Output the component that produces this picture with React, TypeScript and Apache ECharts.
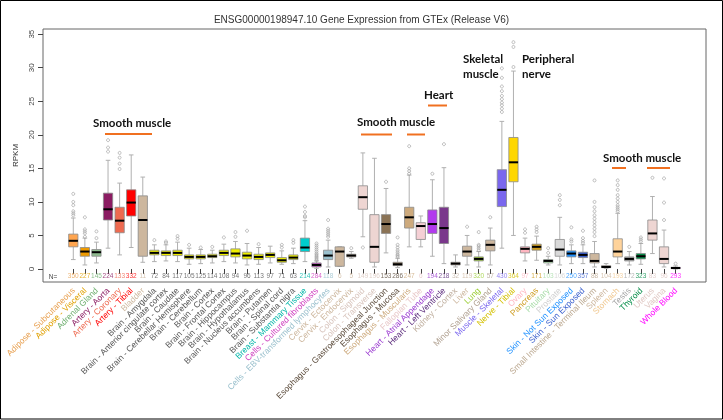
import React, { useEffect, useRef } from "react";
import * as echarts from "echarts";

const titleText = "ENSG00000198947.10 Gene Expression from GTEx (Release V6)";

const tissues = [
  "Adipose - Subcutaneous", "Adipose - Visceral", "Adrenal Gland", "Artery - Aorta", "Artery - Coronary",
  "Artery - Tibial", "Bladder", "Brain - Amygdala", "Brain - Anterior cingulate cortex", "Brain - Caudate",
  "Brain - Cerebellar Hemisphere", "Brain - Cerebellum", "Brain - Cortex", "Brain - Frontal Cortex",
  "Brain - Hippocampus", "Brain - Hypothalamus", "Brain - Nucleus accumbens", "Brain - Putamen",
  "Brain - Spinal cord", "Brain - Substantia nigra", "Breast - Mammary Tissue", "Cells - Cultured fibroblasts",
  "Cells - EBV-transformed lymphocytes", "Cervix - Ectocervix", "Cervix - Endocervix", "Colon - Sigmoid",
  "Colon - Transverse", "Esophagus - Gastroesophageal Junction", "Esophagus - Mucosa", "Esophagus - Muscularis",
  "Fallopian Tube", "Heart - Atrial Appendage", "Heart - Left Ventricle", "Kidney - Cortex", "Liver", "Lung",
  "Minor Salivary Gland", "Muscle - Skeletal", "Nerve - Tibial", "Ovary", "Pancreas", "Pituitary", "Prostate",
  "Skin - Not Sun Exposed", "Skin - Sun Exposed", "Small Intestine - Terminal Ileum", "Spleen", "Stomach",
  "Testis", "Thyroid", "Uterus", "Vagina", "Whole Blood",
];

const nCounts = [
  350, 227, 145, 224, 133, 332, 11, 72, 84, 117, 105, 125, 114, 108, 94, 96, 113, 97, 71, 63, 214, 284, 118, 6, 5,
  149, 196, 153, 286, 247, 6, 194, 218, 32, 119, 320, 57, 430, 364, 97, 171, 103, 106, 250, 357, 88, 104, 193,
  172, 323, 83, 96, 293,
];

const boxColors = [
  "#FFA54F", "#EE9A00", "#8FBC8F", "#8B1C62", "#EE6A50", "#FF0000", "#CDB79E",
  "#EEEE00", "#EEEE00", "#EEEE00", "#EEEE00", "#EEEE00", "#EEEE00", "#EEEE00", "#EEEE00", "#EEEE00", "#EEEE00",
  "#EEEE00", "#EEEE00", "#EEEE00", "#00CDCD", "#C050C0", "#9AC0CD", "#CDB79E", "#CDB79E", "#EED5D2", "#EED5D2",
  "#8B7355", "#8B7355", "#CDAA7D", "#F5D0D5", "#B23AEE", "#7A378B", "#CDB79E", "#CDB79E", "#9ACD32", "#CDB79E",
  "#7A67EE", "#FFD700", "#FFB6C1", "#CD9B1D", "#B4EEB4", "#D9D9D9", "#1E90FF", "#3A5FCD", "#CDB79E", "#CDB79E",
  "#FFD39B", "#A6A6A6", "#008B45", "#EED5D2", "#EED5D2", "#FF00FF",
];

const labelColors = [
  "#E8A050", "#E0A000", "#6FAF6F", "#8B1C62", "#EE6A50", "#FF0000", "#CDB79E",
  "#555555", "#555555", "#555555", "#555555", "#555555", "#555555", "#555555", "#555555", "#555555", "#555555",
  "#555555", "#555555", "#555555", "#00B5A8", "#D040C0", "#9AC0CD", "#CDB79E", "#CDB79E", "#D8C4BC", "#D8C4BC",
  "#5A4A3A", "#5A4A3A", "#CDAA7D", "#E8C8C8", "#9A3AD0", "#5A2A7B", "#C0B0A0", "#CDB79E", "#9ACD32", "#B0A090",
  "#7A67EE", "#D4C000", "#FFB6C1", "#CD9B1D", "#A8DCA8", "#CFCFCF", "#1E90FF", "#3A5FCD", "#BBA890", "#CDB79E",
  "#F0C890", "#A6A6A6", "#008B45", "#E0C8C4", "#E0C8C4", "#FF00FF",
];

const lowWhisker = [
  1.4, 0.6, 0.9, 3.1, 2.1, 3.2, 1.0, 1.1, 1.2, 1.1, 0.7, 0.8, 0.9, 1.1, 0.9, 0.6, 0.7, 0.9, 0.7, 0.8, 1.1, 0.1,
  0.3, 0.4, 1.6, 4.8, 0.3, 2.4, 0.2, 3.3, 3.3, 1.9, 0.8, 0.3, 0.6, 0.3, 0.6, 3.1, 5.0, 1.2, 1.3, 0.6, 0.6, 0.8,
  0.8, 0.3, 0.1, 0.8, 0.6, 0.7, 2.3, 0.3, 0.0,
];
const q1 = [
  3.3, 1.9, 1.9, 7.3, 5.4, 7.9, 1.9, 2.1, 2.0, 2.0, 1.5, 1.5, 1.7, 2.0, 1.8, 1.5, 1.4, 1.7, 1.0, 1.4, 2.6, 0.3,
  1.4, 0.4, 1.8, 8.9, 1.0, 5.3, 0.5, 6.1, 4.4, 5.3, 3.8, 0.6, 1.9, 1.2, 2.7, 9.3, 13.0, 2.4, 2.8, 0.9, 1.9, 1.8,
  1.7, 0.9, 0.2, 1.8, 1.2, 1.5, 4.3, 0.8, 0.05,
];
const medians = [
  4.2, 2.6, 2.5, 8.9, 7.2, 9.9, 7.3, 2.4, 2.4, 2.4, 1.8, 1.8, 1.9, 2.4, 2.3, 2.0, 1.8, 2.1, 1.3, 1.7, 3.2, 0.6,
  2.0, 2.6, 2.0, 10.7, 3.3, 6.7, 0.7, 7.7, 6.4, 6.7, 6.1, 0.8, 2.6, 1.5, 3.6, 11.8, 15.9, 3.0, 3.3, 1.2, 2.9, 2.3,
  2.1, 1.2, 0.3, 2.6, 1.5, 1.9, 5.3, 1.5, 0.15,
];
const q3 = [
  5.2, 3.2, 2.9, 11.3, 9.2, 11.8, 10.9, 2.8, 2.7, 2.8, 2.1, 2.1, 2.2, 2.8, 3.0, 2.5, 2.2, 2.4, 1.7, 2.1, 4.6, 0.9,
  2.8, 3.3, 2.2, 12.4, 8.1, 8.1, 1.0, 9.2, 6.9, 8.8, 9.2, 1.0, 3.4, 1.8, 4.3, 14.8, 19.6, 3.3, 3.7, 1.4, 4.4, 2.7,
  2.5, 2.3, 0.5, 4.5, 1.8, 2.3, 7.3, 3.3, 0.25,
];
const highWhisker = [
  7.6, 4.6, 4.0, 16.2, 12.8, 17.0, 13.7, 3.6, 3.6, 4.0, 3.1, 2.9, 2.8, 3.7, 4.1, 3.8, 3.2, 3.4, 2.7, 3.1, 7.2, 1.2,
  4.3, 3.3, 2.6, 17.3, 16.5, 12.0, 1.6, 14.0, 7.9, 13.3, 15.1, 2.1, 5.0, 2.6, 6.1, 22.0, 29.5, 4.6, 4.9, 1.9, 7.7,
  3.6, 3.6, 4.1, 0.8, 8.3, 2.6, 3.8, 10.8, 5.8, 0.45,
];
const outliers = [
  [8.0, 8.3, 8.6, 9.5, 10.0, 11.2], [4.8, 5.3, 5.6, 5.9, 7.7], [4.6, 5.6], [17.5, 18.1, 19.2],
  [14.9, 15.7, 16.6, 17.3], [], [], [4.3], [3.9, 4.1], [4.5, 4.9], [3.6], [3.2], [3.3], [4.7], [4.8, 5.5], [5.7],
  [3.7], [], [3.2, 3.6], [3.9, 4.3], [7.7, 7.9, 8.5, 9.3],
  [1.3, 1.5, 1.7, 1.9, 2.1, 2.3, 2.6, 2.9, 3.2, 3.5, 3.8], [4.8, 5.1, 5.4, 5.7, 6.0, 7.3], [], [3.1], [3.2], [],
  [13.0], [1.8, 2.0, 2.2, 2.5, 2.8, 3.2, 3.6, 4.7], [14.2, 14.6, 15.0, 18.3], [], [14.2], [18.6], [], [6.3],
  [2.8, 3.1, 3.4, 3.6, 5.5], [7.7], [23.4, 23.9, 24.4, 24.8, 25.3, 25.8, 26.5, 27.2, 28.5, 29.9], [30.1, 33.1, 33.8],
  [5.4, 5.9], [5.5, 5.9, 6.3], [2.4, 3.1], [9.5, 10.3, 11.0], [4.1, 4.4, 6.2], [3.9, 4.2, 4.6, 5.7],
  [4.9, 5.5, 6.0, 6.5, 7.0, 7.5, 8.0, 8.6, 9.2, 10.0, 13.2], [],
  [8.6, 8.9, 9.2, 9.5, 10.0, 10.5, 11.0, 11.8, 12.5, 13.2], [3.3], [4.1, 4.4, 4.7], [13.6], [7.3, 9.9, 13.5], [0.8],
];

const yTicks = [0, 5, 10, 15, 20, 25, 30, 35];

const App: React.FC = () => {
  const ref = useRef<HTMLDivElement>(null);
  useEffect(() => {
    if (!ref.current) return;
    const chart = echarts.init(ref.current, undefined, { renderer: "svg" });
    const boxData = tissues.map((_, i) => [i, lowWhisker[i], q1[i], medians[i], q3[i], highWhisker[i]]);
    const outlierData: number[][] = [];
    outliers.forEach((arr, i) => arr.forEach((v) => outlierData.push([i, v])));
    const nData = nCounts.map((n, i) => ({
      value: [i, -0.98],
      label: { color: labelColors[i] },
    }));
    const annFont = { fontFamily: "Lato", fontWeight: "bold", fontSize: 11.5, fill: "#111" } as any;
    const orange = "#F07020";
    const hline = (x1: number, x2: number, y: number) => ({
      type: "line",
      shape: { x1, y1: y, x2, y2: y },
      style: { stroke: orange, lineWidth: 2 },
    });
    const label = (text: string, x: number, y: number) => ({
      type: "text",
      x,
      y,
      style: { ...annFont, text, textVerticalAlign: "middle" },
    });
    const option: any = {
      animation: false,
      title: {
        text: titleText,
        left: "center",
        top: 9,
        textStyle: { fontSize: 10, fontWeight: "normal", color: "#333", fontFamily: "Liberation Sans" },
      },
      grid: { left: 67.5, top: 29, right: 41.6, bottom: 138 },
      xAxis: {
        type: "category",
        data: tissues,
        boundaryGap: true,
        splitLine: { show: false },
        axisLine: { show: false },
        axisTick: { show: true, alignWithLabel: true, interval: 0, length: 5, lineStyle: { color: "#444" } },
        axisLabel: {
          interval: 0,
          rotate: 45,
          margin: 7,
          fontSize: 8.5,
          fontFamily: "Liberation Sans",
          color: (v: any, i: number) => labelColors[i] || "#555",
        },
      },
      yAxis: {
        type: "value",
        min: -1.94,
        max: 35.77,
        offset: 24.5,
        name: "RPKM",
        nameLocation: "middle",
        nameGap: 17,
        nameTextStyle: { fontSize: 8, color: "#333", fontFamily: "Liberation Sans" },
        splitLine: { show: false },
        axisLine: { show: false },
        axisTick: { show: true, customValues: yTicks, length: 5, lineStyle: { color: "#444" } },
        axisLabel: {
          customValues: yTicks,
          rotate: 90,
          margin: 8,
          fontSize: 8,
          color: "#444",
          fontFamily: "Liberation Sans",
          showMinLabel: true,
          showMaxLabel: true,
        },
      },
      series: [
        {
          type: "custom",
          name: "boxes",
          data: boxData,
          encode: { x: 0, y: [1, 2, 3, 4, 5] },
          renderItem: (params: any, api: any) => {
            const x = api.value(0);
            const pLow = api.coord([x, api.value(1)]);
            const pQ1 = api.coord([x, api.value(2)]);
            const pMed = api.coord([x, api.value(3)]);
            const pQ3 = api.coord([x, api.value(4)]);
            const pHigh = api.coord([x, api.value(5)]);
            const w = api.size([1, 0])[0] * 0.8;
            const cx = pLow[0];
            const idx = params.dataIndex;
            const ws = { stroke: "#b0b0b0", lineWidth: 1 };
            return {
              type: "group",
              children: [
                { type: "line", shape: { x1: cx, y1: pHigh[1], x2: cx, y2: pQ3[1] }, style: ws },
                { type: "line", shape: { x1: cx, y1: pQ1[1], x2: cx, y2: pLow[1] }, style: ws },
                { type: "line", shape: { x1: cx - w / 4, y1: pHigh[1], x2: cx + w / 4, y2: pHigh[1] }, style: ws },
                { type: "line", shape: { x1: cx - w / 4, y1: pLow[1], x2: cx + w / 4, y2: pLow[1] }, style: ws },
                {
                  type: "rect",
                  shape: { x: cx - w / 2, y: pQ3[1], width: w, height: Math.max(pQ1[1] - pQ3[1], 0.5) },
                  style: { fill: boxColors[idx], stroke: "#8a8a8a", lineWidth: 0.8 },
                },
                {
                  type: "line",
                  shape: { x1: cx - w / 2, y1: pMed[1], x2: cx + w / 2, y2: pMed[1] },
                  style: { stroke: "#000", lineWidth: 2 },
                },
              ],
            };
          },
        },
        {
          type: "scatter",
          name: "outliers",
          data: outlierData,
          symbol: "circle",
          symbolSize: 3,
          itemStyle: { color: "rgba(255,255,255,0)", borderColor: "#999", borderWidth: 0.8 },
        },
        {
          type: "scatter",
          name: "N",
          data: nData,
          symbolSize: 0,
          label: {
            show: true,
            position: "inside",
            fontSize: 6.5,
            fontFamily: "Liberation Sans",
            formatter: (p: any) => String(nCounts[p.dataIndex]),
          },
        },
      ],
      graphic: [
        {
          type: "rect",
          shape: { x: 0.5, y: 0.5, width: 722, height: 418.5 },
          style: { fill: "none", stroke: "#000", lineWidth: 1 },
        },
        {
          type: "rect",
          shape: { x: 43, y: 29, width: 663, height: 253 },
          style: { fill: "none", stroke: "#666", lineWidth: 1 },
        },
        {
          type: "text",
          x: 53,
          y: 276,
          style: { text: "N=", fontSize: 6.5, fill: "#444", fontFamily: "Liberation Sans", textAlign: "center", textVerticalAlign: "middle" },
        },
        label("Smooth muscle", 93, 122),
        hline(105, 152, 134),
        label("Smooth muscle", 357, 121),
        hline(361, 392, 134.5),
        hline(407, 425, 134.5),
        label("Heart", 424, 94),
        hline(428, 447, 105.5),
        label("Skeletal", 463, 58.5),
        label("muscle", 463, 73),
        label("Peripheral", 522, 58.5),
        label("nerve", 522, 73),
        label("Smooth muscle", 603, 157),
        hline(612, 626, 168),
        hline(647, 670, 168),
      ],
    };
    chart.setOption(option);
    return () => chart.dispose();
  }, []);
  return <div ref={ref} style={{ position: "fixed", left: 0, top: 0, width: 723, height: 420 }} />;
};

export default App;
